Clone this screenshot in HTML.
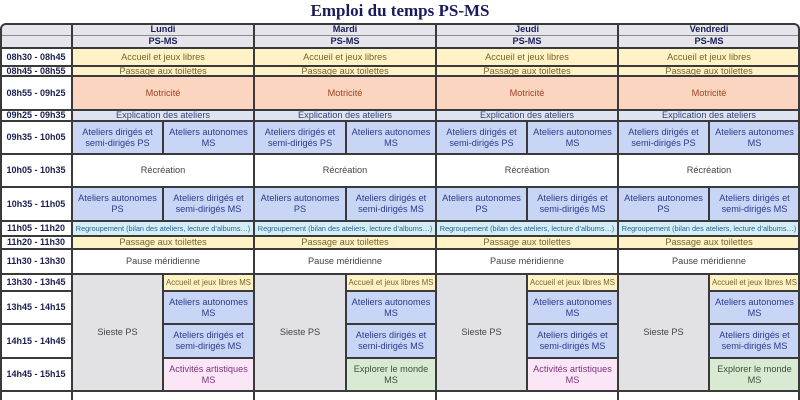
<!DOCTYPE html>
<html><head><meta charset="utf-8">
<style>
html,body{margin:0;padding:0;background:#fff;width:800px;height:400px;overflow:hidden;}
body{position:relative;font-family:"Liberation Sans",sans-serif;}
.title{position:absolute;left:0;top:0;width:800px;height:24px;text-align:center;font-family:"Liberation Serif",serif;font-weight:bold;font-size:17px;line-height:22px;color:#1b1b5c;}
.c{position:absolute;display:flex;align-items:center;justify-content:center;text-align:center;font-size:9.2px;line-height:11px;box-sizing:border-box;white-space:nowrap;}
.c span{position:relative;z-index:3;}
.hd{background:#e5e5eb;color:#1a1f55;font-weight:bold;}
.y{background:#fff2c6;color:#76652a;}
.s{background:#fcd5c0;color:#9a4522;}
.e{background:#dee3f1;color:#34457a;}
.b{background:#c9d5f5;color:#2b3b8c;}
.w{background:#fff;color:#444;}
.cy{background:#d4eef8;color:#2a5f8f;font-size:7.3px;}
.g{background:#e2e2e5;color:#444;}
.p{background:#fbe6f8;color:#7b3478;}
.gr{background:#d9ead3;color:#3d4d3d;}
.t{background:#fff;color:#1a1f4d;font-weight:bold;font-size:9px;}
.sm{font-size:7.8px;}
.h{position:absolute;height:2px;background:#3a3a3a;}
.hl{position:absolute;height:1px;background:#8a8a8a;}
.v{position:absolute;width:2px;background:#3a3a3a;}
.frame{position:absolute;left:0;top:23px;width:800px;height:377px;box-sizing:border-box;border:2px solid #3a3a3a;border-bottom:none;border-radius:6px 6px 0 0;}
</style></head>
<body>
<div class="title">Emploi du temps PS-MS</div>

<!-- time column -->
<div class="c hd" style="left:0;top:24px;width:72px;height:11px;border-top-left-radius:6px;"></div>
<div class="c hd" style="left:0;top:35px;width:72px;height:13px;"></div>
<div class="c t" style="left:0;top:48px;width:72px;height:18px;"><span>08h30 - 08h45</span></div>
<div class="c t" style="left:0;top:66px;width:72px;height:10px;"><span>08h45 - 08h55</span></div>
<div class="c t" style="left:0;top:76px;width:72px;height:34px;"><span>08h55 - 09h25</span></div>
<div class="c t" style="left:0;top:110px;width:72px;height:11px;"><span>09h25 - 09h35</span></div>
<div class="c t" style="left:0;top:121px;width:72px;height:33px;"><span>09h35 - 10h05</span></div>
<div class="c t" style="left:0;top:154px;width:72px;height:33px;"><span>10h05 - 10h35</span></div>
<div class="c t" style="left:0;top:187px;width:72px;height:34px;"><span>10h35 - 11h05</span></div>
<div class="c t" style="left:0;top:221px;width:72px;height:15px;"><span>11h05 - 11h20</span></div>
<div class="c t" style="left:0;top:236px;width:72px;height:13px;"><span>11h20 - 11h30</span></div>
<div class="c t" style="left:0;top:249px;width:72px;height:25px;"><span>11h30 - 13h30</span></div>
<div class="c t" style="left:0;top:274px;width:72px;height:17px;"><span>13h30 - 13h45</span></div>
<div class="c t" style="left:0;top:291px;width:72px;height:33px;"><span>13h45 - 14h15</span></div>
<div class="c t" style="left:0;top:324px;width:72px;height:34px;"><span>14h15 - 14h45</span></div>
<div class="c t" style="left:0;top:358px;width:72px;height:33px;"><span>14h45 - 15h15</span></div>

<!-- LUNDI -->
<div class="c hd" style="left:72px;top:24px;width:182px;height:11px;"><span>Lundi</span></div>
<div class="c hd" style="left:72px;top:35px;width:182px;height:13px;"><span>PS-MS</span></div>
<div class="c y" style="left:72px;top:48px;width:182px;height:18px;"><span>Accueil et jeux libres</span></div>
<div class="c y" style="left:72px;top:66px;width:182px;height:10px;"><span>Passage aux toilettes</span></div>
<div class="c s" style="left:72px;top:76px;width:182px;height:34px;"><span>Motricité</span></div>
<div class="c e" style="left:72px;top:110px;width:182px;height:11px;"><span>Explication des ateliers</span></div>
<div class="c b" style="left:72px;top:121px;width:91px;height:33px;"><span>Ateliers dirigés et<br>semi-dirigés PS</span></div>
<div class="c b" style="left:163px;top:121px;width:91px;height:33px;"><span>Ateliers autonomes<br>MS</span></div>
<div class="c w" style="left:72px;top:154px;width:182px;height:33px;"><span>Récréation</span></div>
<div class="c b" style="left:72px;top:187px;width:91px;height:34px;"><span>Ateliers autonomes<br>PS</span></div>
<div class="c b" style="left:163px;top:187px;width:91px;height:34px;"><span>Ateliers dirigés et<br>semi-dirigés MS</span></div>
<div class="c cy" style="left:72px;top:221px;width:182px;height:15px;"><span>Regroupement (bilan des ateliers, lecture d’albums…)</span></div>
<div class="c y" style="left:72px;top:236px;width:182px;height:13px;"><span>Passage aux toilettes</span></div>
<div class="c w" style="left:72px;top:249px;width:182px;height:25px;"><span>Pause méridienne</span></div>
<div class="c g" style="left:72px;top:274px;width:91px;height:117px;"><span>Sieste PS</span></div>
<div class="c y sm" style="left:163px;top:274px;width:91px;height:17px;"><span>Accueil et jeux libres MS</span></div>
<div class="c b" style="left:163px;top:291px;width:91px;height:33px;"><span>Ateliers autonomes<br>MS</span></div>
<div class="c b" style="left:163px;top:324px;width:91px;height:34px;"><span>Ateliers dirigés et<br>semi-dirigés MS</span></div>
<div class="c p" style="left:163px;top:358px;width:91px;height:33px;"><span>Activités artistiques<br>MS</span></div>

<!-- MARDI -->
<div class="c hd" style="left:254px;top:24px;width:182px;height:11px;"><span>Mardi</span></div>
<div class="c hd" style="left:254px;top:35px;width:182px;height:13px;"><span>PS-MS</span></div>
<div class="c y" style="left:254px;top:48px;width:182px;height:18px;"><span>Accueil et jeux libres</span></div>
<div class="c y" style="left:254px;top:66px;width:182px;height:10px;"><span>Passage aux toilettes</span></div>
<div class="c s" style="left:254px;top:76px;width:182px;height:34px;"><span>Motricité</span></div>
<div class="c e" style="left:254px;top:110px;width:182px;height:11px;"><span>Explication des ateliers</span></div>
<div class="c b" style="left:254px;top:121px;width:92px;height:33px;"><span>Ateliers dirigés et<br>semi-dirigés PS</span></div>
<div class="c b" style="left:346px;top:121px;width:90px;height:33px;"><span>Ateliers autonomes<br>MS</span></div>
<div class="c w" style="left:254px;top:154px;width:182px;height:33px;"><span>Récréation</span></div>
<div class="c b" style="left:254px;top:187px;width:92px;height:34px;"><span>Ateliers autonomes<br>PS</span></div>
<div class="c b" style="left:346px;top:187px;width:90px;height:34px;"><span>Ateliers dirigés et<br>semi-dirigés MS</span></div>
<div class="c cy" style="left:254px;top:221px;width:182px;height:15px;"><span>Regroupement (bilan des ateliers, lecture d’albums…)</span></div>
<div class="c y" style="left:254px;top:236px;width:182px;height:13px;"><span>Passage aux toilettes</span></div>
<div class="c w" style="left:254px;top:249px;width:182px;height:25px;"><span>Pause méridienne</span></div>
<div class="c g" style="left:254px;top:274px;width:92px;height:117px;"><span>Sieste PS</span></div>
<div class="c y sm" style="left:346px;top:274px;width:90px;height:17px;"><span>Accueil et jeux libres MS</span></div>
<div class="c b" style="left:346px;top:291px;width:90px;height:33px;"><span>Ateliers autonomes<br>MS</span></div>
<div class="c b" style="left:346px;top:324px;width:90px;height:34px;"><span>Ateliers dirigés et<br>semi-dirigés MS</span></div>
<div class="c gr" style="left:346px;top:358px;width:90px;height:33px;"><span>Explorer le monde<br>MS</span></div>

<!-- JEUDI -->
<div class="c hd" style="left:436px;top:24px;width:182px;height:11px;"><span>Jeudi</span></div>
<div class="c hd" style="left:436px;top:35px;width:182px;height:13px;"><span>PS-MS</span></div>
<div class="c y" style="left:436px;top:48px;width:182px;height:18px;"><span>Accueil et jeux libres</span></div>
<div class="c y" style="left:436px;top:66px;width:182px;height:10px;"><span>Passage aux toilettes</span></div>
<div class="c s" style="left:436px;top:76px;width:182px;height:34px;"><span>Motricité</span></div>
<div class="c e" style="left:436px;top:110px;width:182px;height:11px;"><span>Explication des ateliers</span></div>
<div class="c b" style="left:436px;top:121px;width:91px;height:33px;"><span>Ateliers dirigés et<br>semi-dirigés PS</span></div>
<div class="c b" style="left:527px;top:121px;width:91px;height:33px;"><span>Ateliers autonomes<br>MS</span></div>
<div class="c w" style="left:436px;top:154px;width:182px;height:33px;"><span>Récréation</span></div>
<div class="c b" style="left:436px;top:187px;width:91px;height:34px;"><span>Ateliers autonomes<br>PS</span></div>
<div class="c b" style="left:527px;top:187px;width:91px;height:34px;"><span>Ateliers dirigés et<br>semi-dirigés MS</span></div>
<div class="c cy" style="left:436px;top:221px;width:182px;height:15px;"><span>Regroupement (bilan des ateliers, lecture d’albums…)</span></div>
<div class="c y" style="left:436px;top:236px;width:182px;height:13px;"><span>Passage aux toilettes</span></div>
<div class="c w" style="left:436px;top:249px;width:182px;height:25px;"><span>Pause méridienne</span></div>
<div class="c g" style="left:436px;top:274px;width:91px;height:117px;"><span>Sieste PS</span></div>
<div class="c y sm" style="left:527px;top:274px;width:91px;height:17px;"><span>Accueil et jeux libres MS</span></div>
<div class="c b" style="left:527px;top:291px;width:91px;height:33px;"><span>Ateliers autonomes<br>MS</span></div>
<div class="c b" style="left:527px;top:324px;width:91px;height:34px;"><span>Ateliers dirigés et<br>semi-dirigés MS</span></div>
<div class="c p" style="left:527px;top:358px;width:91px;height:33px;"><span>Activités artistiques<br>MS</span></div>

<!-- VENDREDI -->
<div class="c hd" style="left:618px;top:24px;width:182px;height:11px;border-top-right-radius:6px;"><span>Vendredi</span></div>
<div class="c hd" style="left:618px;top:35px;width:182px;height:13px;"><span>PS-MS</span></div>
<div class="c y" style="left:618px;top:48px;width:182px;height:18px;"><span>Accueil et jeux libres</span></div>
<div class="c y" style="left:618px;top:66px;width:182px;height:10px;"><span>Passage aux toilettes</span></div>
<div class="c s" style="left:618px;top:76px;width:182px;height:34px;"><span>Motricité</span></div>
<div class="c e" style="left:618px;top:110px;width:182px;height:11px;"><span>Explication des ateliers</span></div>
<div class="c b" style="left:618px;top:121px;width:91px;height:33px;"><span>Ateliers dirigés et<br>semi-dirigés PS</span></div>
<div class="c b" style="left:709px;top:121px;width:91px;height:33px;"><span>Ateliers autonomes<br>MS</span></div>
<div class="c w" style="left:618px;top:154px;width:182px;height:33px;"><span>Récréation</span></div>
<div class="c b" style="left:618px;top:187px;width:91px;height:34px;"><span>Ateliers autonomes<br>PS</span></div>
<div class="c b" style="left:709px;top:187px;width:91px;height:34px;"><span>Ateliers dirigés et<br>semi-dirigés MS</span></div>
<div class="c cy" style="left:618px;top:221px;width:182px;height:15px;"><span>Regroupement (bilan des ateliers, lecture d’albums…)</span></div>
<div class="c y" style="left:618px;top:236px;width:182px;height:13px;"><span>Passage aux toilettes</span></div>
<div class="c w" style="left:618px;top:249px;width:182px;height:25px;"><span>Pause méridienne</span></div>
<div class="c g" style="left:618px;top:274px;width:91px;height:117px;"><span>Sieste PS</span></div>
<div class="c y sm" style="left:709px;top:274px;width:91px;height:17px;"><span>Accueil et jeux libres MS</span></div>
<div class="c b" style="left:709px;top:291px;width:91px;height:33px;"><span>Ateliers autonomes<br>MS</span></div>
<div class="c b" style="left:709px;top:324px;width:91px;height:34px;"><span>Ateliers dirigés et<br>semi-dirigés MS</span></div>
<div class="c gr" style="left:709px;top:358px;width:91px;height:33px;"><span>Explorer le monde<br>MS</span></div>

<!-- horizontal lines -->
<div class="hl" style="left:0;top:35px;width:800px;"></div>
<div class="h" style="left:0;top:47px;width:800px;"></div>
<div class="h" style="left:0;top:65px;width:800px;"></div>
<div class="h" style="left:0;top:75px;width:800px;"></div>
<div class="h" style="left:0;top:109px;width:800px;"></div>
<div class="h" style="left:0;top:120px;width:800px;"></div>
<div class="h" style="left:0;top:153px;width:800px;"></div>
<div class="h" style="left:0;top:186px;width:800px;"></div>
<div class="h" style="left:0;top:220px;width:800px;"></div>
<div class="h" style="left:0;top:235px;width:800px;"></div>
<div class="h" style="left:0;top:248px;width:800px;"></div>
<div class="h" style="left:0;top:273px;width:800px;"></div>
<div class="h" style="left:0;top:390px;width:800px;"></div>
<!-- partial lines in afternoon -->
<div class="h" style="left:0;top:290px;width:72px;"></div>
<div class="h" style="left:163px;top:290px;width:91px;"></div>
<div class="h" style="left:346px;top:290px;width:90px;"></div>
<div class="h" style="left:527px;top:290px;width:91px;"></div>
<div class="h" style="left:709px;top:290px;width:91px;"></div>
<div class="h" style="left:0;top:323px;width:72px;"></div>
<div class="h" style="left:163px;top:323px;width:91px;"></div>
<div class="h" style="left:346px;top:323px;width:90px;"></div>
<div class="h" style="left:527px;top:323px;width:91px;"></div>
<div class="h" style="left:709px;top:323px;width:91px;"></div>
<div class="h" style="left:0;top:357px;width:72px;"></div>
<div class="h" style="left:163px;top:357px;width:91px;"></div>
<div class="h" style="left:346px;top:357px;width:90px;"></div>
<div class="h" style="left:527px;top:357px;width:91px;"></div>
<div class="h" style="left:709px;top:357px;width:91px;"></div>

<!-- vertical lines -->
<div class="v" style="left:71px;top:24px;height:376px;"></div>
<div class="v" style="left:253px;top:24px;height:376px;"></div>
<div class="v" style="left:435px;top:24px;height:376px;"></div>
<div class="v" style="left:617px;top:24px;height:376px;"></div>
<!-- splits -->
<div class="v" style="left:162px;top:121px;height:33px;"></div>
<div class="v" style="left:345px;top:121px;height:33px;"></div>
<div class="v" style="left:526px;top:121px;height:33px;"></div>
<div class="v" style="left:708px;top:121px;height:33px;"></div>
<div class="v" style="left:162px;top:187px;height:34px;"></div>
<div class="v" style="left:345px;top:187px;height:34px;"></div>
<div class="v" style="left:526px;top:187px;height:34px;"></div>
<div class="v" style="left:708px;top:187px;height:34px;"></div>
<div class="v" style="left:162px;top:274px;height:117px;"></div>
<div class="v" style="left:345px;top:274px;height:117px;"></div>
<div class="v" style="left:526px;top:274px;height:117px;"></div>
<div class="v" style="left:708px;top:274px;height:117px;"></div>

<div class="frame"></div>
</body></html>
